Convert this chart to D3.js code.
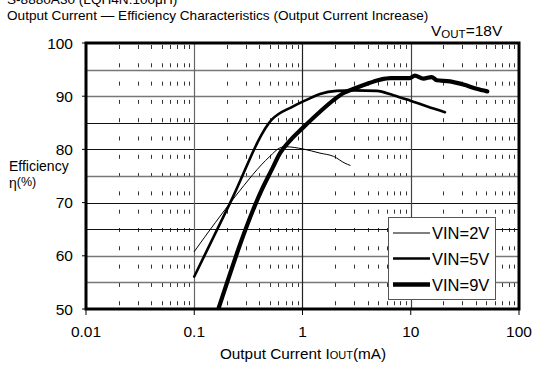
<!DOCTYPE html>
<html><head><meta charset="utf-8">
<script src="https://cdn.jsdelivr.net/npm/d3@7"></script>
<style>
html,body{margin:0;padding:0;background:#fff;}
svg text{font-family:Arial,"Liberation Sans",sans-serif;fill:#000;}
</style></head>
<body>
<svg id="c" width="537" height="365"></svg>
<script>
// ---- data ----
const xTicks = [0.01, 0.1, 1, 10, 100];
const xTickLabels = ["0.01", "0.1", "1", "10", "100"];
const yTicks = [50, 60, 70, 80, 90, 100];
const yTickLabels = ["50", "60", "70", "80", "90", "100"];
const yGrid = [55, 60, 65, 70, 75, 80, 85, 90, 95];
const seriesNames = ["VIN=2V", "VIN=5V", "VIN=9V"];

const iout2 = [0.1, 0.156, 0.24, 0.5, 0.62, 0.7, 1.0, 1.45, 1.93, 2.47, 2.75];
const eff2  = [60.8, 66.2, 71.2, 78.7, 80.3, 80.5, 80.1, 79.3, 78.7, 77.4, 77.0];

const iout5 = [0.1, 0.214, 0.52, 0.82, 1.17, 1.45, 2.07, 3.0, 4.85, 6.9, 9.8, 14, 20.7];
const eff5  = [56.1, 69.9, 85.6, 88.1, 89.6, 90.4, 91.0, 91.1, 91.0, 90.2, 89.2, 88.1, 87.0];

const iout9 = [0.167, 0.42, 0.52, 0.62, 0.77, 1.0, 1.4, 2.0, 2.4, 2.9, 3.9, 5.2, 6.5, 9.8, 10.9, 13.1, 15.6, 17.4, 23, 30.6, 40.6, 50.9];
const eff9  = [50.0, 72.4, 76.2, 79.3, 81.7, 84.0, 86.8, 89.5, 90.6, 91.3, 92.3, 93.1, 93.4, 93.4, 93.85, 93.3, 93.6, 93.0, 92.8, 92.2, 91.4, 90.9];

// ---- layout ----
const L = 86, R = 519, T = 43, B = 309;
const svg = d3.select("#c");
const x = d3.scaleLog().domain([0.01, 100]).range([L, R]);
const y = d3.scaleLinear().domain([50, 100]).range([B, T]);

// minor dashed vertical lines
const minors = [];
for (let d = 0.01; d < 100; d *= 10) for (let k = 2; k <= 9; k++) minors.push(d * k);
svg.append("g").selectAll("line").data(minors).join("line")
  .attr("x1", d => Math.round(x(d)) + 0.5).attr("x2", d => Math.round(x(d)) + 0.5)
  .attr("y1", T + 2).attr("y2", B)
  .attr("stroke", "#333").attr("stroke-width", 1)
  .attr("stroke-dasharray", "4,14.3");

// horizontal grid
const hColor = {55:"#777",60:"#777",65:"#111",70:"#111",75:"#777",80:"#111",85:"#111",90:"#777",95:"#777"};
svg.append("g").selectAll("line").data(yGrid).join("line")
  .attr("x1", L).attr("x2", R)
  .attr("y1", d => Math.round(y(d)) + 0.5).attr("y2", d => Math.round(y(d)) + 0.5)
  .attr("stroke", d => hColor[d]).attr("stroke-width", d => hColor[d] === "#777" ? 1.5 : 1);

// vertical decade grid
const vColor = {0.1:"#666", 1:"#222", 10:"#444"};
svg.append("g").selectAll("line").data([0.1, 1, 10]).join("line")
  .attr("x1", d => Math.round(x(d)) + 0.5).attr("x2", d => Math.round(x(d)) + 0.5)
  .attr("y1", T).attr("y2", B)
  .attr("stroke", d => vColor[d]).attr("stroke-width", 1.2);

// ticks outside
svg.append("g").selectAll("line").data(xTicks).join("line")
  .attr("x1", d => x(d)).attr("x2", d => x(d)).attr("y1", B).attr("y2", B + 6)
  .attr("stroke", "#000").attr("stroke-width", 1);
svg.append("g").selectAll("line").data(yTicks).join("line")
  .attr("x1", L - 4).attr("x2", L).attr("y1", d => y(d)).attr("y2", d => y(d))
  .attr("stroke", "#000").attr("stroke-width", 1);

// clip
svg.append("clipPath").attr("id", "clip").append("rect")
  .attr("x", L).attr("y", T).attr("width", R - L).attr("height", B - T);

const line = d3.line().x(d => x(d[0])).y(d => y(d[1])).curve(d3.curveMonotoneX);
const series = [
  {xs: iout2, ys: eff2, w: 1, c: "#000"},
  {xs: iout5, ys: eff5, w: 2.6, c: "#000"},
  {xs: iout9, ys: eff9, w: 4.2, c: "#000"}
];
const gCurves = svg.append("g").attr("clip-path", "url(#clip)");
series.forEach(s => {
  gCurves.append("path").datum(s.xs.map((v, i) => [v, s.ys[i]]))
    .attr("d", line).attr("fill", "none").attr("stroke", s.c)
    .attr("stroke-width", s.w).attr("stroke-linejoin", "round").attr("stroke-linecap", "round");
});

// frame
svg.append("rect").attr("x", L).attr("y", T).attr("width", R - L).attr("height", B - T)
  .attr("fill", "none").attr("stroke", "#000").attr("stroke-width", 3);

// legend
const lg = svg.append("g");
lg.append("rect").attr("x", 388.5).attr("y", 217.5).attr("width", 107).attr("height", 82)
  .attr("fill", "#fff").attr("stroke", "#555").attr("stroke-width", 1);
const legW = [1.5, 2.6, 4.5], legC = ["#555", "#000", "#000"], legY = [233, 258.5, 284.5];
seriesNames.forEach((n, i) => {
  lg.append("line").attr("x1", 393).attr("x2", 430).attr("y1", legY[i]).attr("y2", legY[i])
    .attr("stroke", legC[i]).attr("stroke-width", legW[i]);
  lg.append("text").attr("x", 432).attr("y", legY[i] + 6).attr("font-size", 16.5).text(n);
});

// tick labels
svg.append("g").selectAll("text").data(yTicks).join("text")
  .attr("x", 73).attr("y", d => y(d) + 5.5).attr("text-anchor", "end").attr("font-size", 15.5)
  .text((d, i) => yTickLabels[i]);
svg.append("g").selectAll("text").data(xTicks).join("text")
  .attr("x", d => x(d)).attr("y", 337).attr("text-anchor", "middle").attr("font-size", 15.5)
  .text((d, i) => xTickLabels[i]);

// axis titles
const xt = svg.append("text").attr("x", 303).attr("y", 359).attr("text-anchor", "middle").attr("font-size", 15.3);
xt.append("tspan").text("Output Current I");
xt.append("tspan").attr("font-size", 11).text("OUT");
xt.append("tspan").text("(mA)");

svg.append("text").attr("x", 9).attr("y", 171).attr("font-size", 14).text("Efficiency");
const eta = svg.append("text").attr("x", 9).attr("y", 188).attr("font-size", 14);
eta.append("tspan").text("η");
eta.append("tspan").attr("dy", -2).attr("font-size", 12.5).text("(%)");

// titles
svg.append("text").attr("x", 7).attr("y", 4).attr("font-size", 13.6).text("S-8880A30 (LQH4N:100μH)");
svg.append("text").attr("x", 7).attr("y", 20).attr("font-size", 13.6)
  .text("Output Current — Efficiency Characteristics (Output Current Increase)");
const vo = svg.append("text").attr("x", 431).attr("y", 36).attr("font-size", 15.5);
vo.append("tspan").text("V");
vo.append("tspan").attr("font-size", 11.5).attr("dy", 2).text("OUT");
vo.append("tspan").attr("dy", -2).text("=18V");
</script>
</body></html>
